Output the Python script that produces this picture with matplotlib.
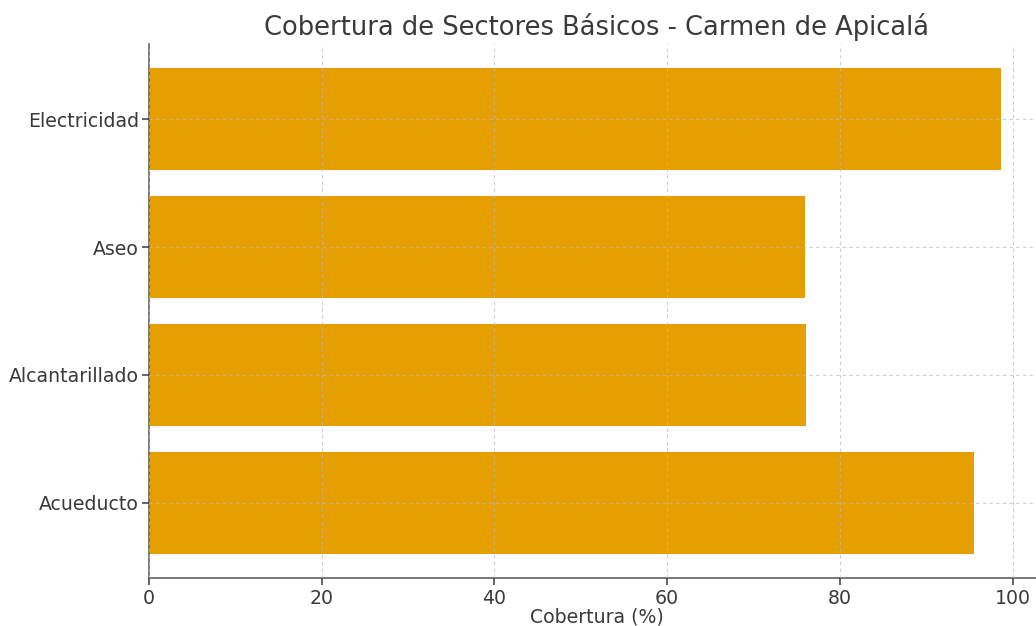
import matplotlib.pyplot as plt

plt.rcParams["font.family"] = ["DejaVu Sans"]

sectores = ["Acueducto", "Alcantarillado", "Aseo", "Electricidad"]
cobertura = [95.5, 76.1, 76.0, 98.7]

text_color = "#3a3a3a"

fig = plt.figure(figsize=(10.36, 6.26), dpi=100)
ax = fig.add_axes([0.1438, 0.0759, 0.8639, 0.8546])

ax.barh(sectores, cobertura, color="#E69F00", height=0.8)

ax.set_title("Cobertura de Sectores Básicos - Carmen de Apicalá",
             fontsize=18.5, color=text_color, pad=6)
ax.set_xlabel("Cobertura (%)", fontsize=13.6, color=text_color, labelpad=0)

ax.set_axisbelow(False)
ax.grid(True, linestyle=(0, (3, 3)), color="#bbbbbb", linewidth=0.8, alpha=0.7)

ax.tick_params(labelsize=13.6, colors=text_color, length=4.8, width=1.1, pad=2.5)
ax.spines["top"].set_visible(False)
ax.spines["right"].set_visible(False)
for side in ["left", "bottom"]:
    ax.spines[side].set_color("#555555")
    ax.spines[side].set_linewidth(1.1)

fig.savefig("out.png", dpi=100)
